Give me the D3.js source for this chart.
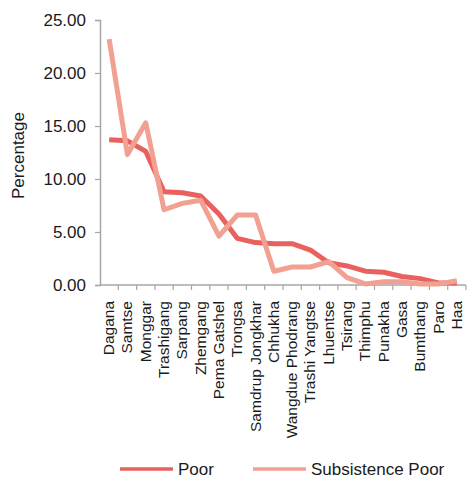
<!DOCTYPE html>
<html>
<head>
<meta charset="utf-8">
<script src="https://cdn.jsdelivr.net/npm/d3@7/dist/d3.min.js"></script>
<style>
  html, body { margin: 0; padding: 0; background: #fff; }
  svg { display: block; font-family: "Liberation Sans", Arial, sans-serif; }
</style>
</head>
<body>
<svg id="chart" width="467" height="481"></svg>
<script>
// District names along the horizontal axis
const districts = ["Dagana", "Samtse", "Monggar", "Trashigang", "Sarpang", "Zhemgang",
  "Pema Gatshel", "Trongsa", "Samdrup Jongkhar", "Chhukha", "Wangdue Phodrang",
  "Trashi Yangtse", "Lhuentse", "Tsirang", "Thimphu", "Punakha", "Gasa",
  "Bumthang", "Paro", "Haa"];

// Percentage of population below each poverty line
const poor = [13.7, 13.6, 12.6, 8.8, 8.7, 8.4, 6.7, 4.4, 4.0, 3.9, 3.9, 3.3,
  2.1, 1.8, 1.3, 1.2, 0.8, 0.6, 0.2, 0.2];
const subsistencePoor = [23.2, 12.3, 15.3, 7.1, 7.7, 8.0, 4.6, 6.6, 6.6, 1.3, 1.7, 1.7,
  2.2, 0.7, 0.1, 0.3, 0.3, 0.1, 0.1, 0.4];

const yTicks = [0, 5, 10, 15, 20, 25];

const seriesNames = ["Poor", "Subsistence Poor"];
const seriesColors = ["#e8615f", "#f1a092"];

const svg = d3.select("#chart");
const plotLeft = 100, plotRight = 466, plotTop = 20, plotBottom = 285;

const x = d3.scaleBand().domain(districts).range([plotLeft, plotRight]);
const y = d3.scaleLinear().domain([0, 25]).range([plotBottom, plotTop]);

const axisColor = "#a6a6a6";

// Vertical axis
const yAxis = svg.append("g")
  .attr("transform", `translate(${plotLeft},0)`)
  .call(d3.axisLeft(y).tickValues(yTicks).tickFormat(d3.format(".2f")).tickSize(5).tickPadding(9));
yAxis.select(".domain").attr("stroke", axisColor).attr("stroke-width", 1.5);
yAxis.selectAll(".tick line").attr("stroke", axisColor).attr("stroke-width", 1.2);
yAxis.selectAll(".tick text").attr("fill", "#1a1a1a").style("font-size", "17px")
  .style("font-family", "'Liberation Sans', Arial, sans-serif");

// Horizontal axis: ticks sit on category boundaries
const xAxis = svg.append("g")
  .attr("transform", `translate(0,${plotBottom})`);
xAxis.append("line")
  .attr("x1", plotLeft).attr("x2", plotRight)
  .attr("stroke", axisColor).attr("stroke-width", 1.5);
xAxis.selectAll("line.tick")
  .data(districts)
  .join("line")
  .attr("class", "tick")
  .attr("x1", d => x(d) + x.step())
  .attr("x2", d => x(d) + x.step())
  .attr("y1", 0).attr("y2", 5)
  .attr("stroke", axisColor).attr("stroke-width", 1.2);

// Rotated category labels
svg.append("g").selectAll("text")
  .data(districts)
  .join("text")
  .attr("transform", d => `translate(${x(d) + x.bandwidth() / 2 + 5},${plotBottom + 16}) rotate(-90)`)
  .attr("text-anchor", "end")
  .attr("fill", "#1a1a1a")
  .style("font-size", "15.5px")
  .text(d => d);

// Axis title
svg.append("text")
  .attr("transform", `translate(24,${(plotTop + plotBottom) / 2 + 3}) rotate(-90)`)
  .attr("text-anchor", "middle")
  .attr("fill", "#1a1a1a")
  .style("font-size", "17px")
  .text("Percentage");

// Series lines
const line = d3.line()
  .x((d, i) => x(districts[i]) + x.bandwidth() / 2)
  .y(d => y(d));

[poor, subsistencePoor].forEach((values, k) => {
  svg.append("path")
    .datum(values)
    .attr("fill", "none")
    .attr("stroke", seriesColors[k])
    .attr("stroke-width", 5)
    .attr("stroke-linejoin", "round")
    .attr("d", line);
});

// Legend
const legendX = [120, 253];
seriesNames.forEach((name, k) => {
  const g = svg.append("g").attr("transform", `translate(${legendX[k]},469)`);
  g.append("line")
    .attr("x1", 0).attr("x2", 53)
    .attr("stroke", seriesColors[k]).attr("stroke-width", 3.5);
  g.append("text")
    .attr("x", 58).attr("y", 6)
    .attr("fill", "#1a1a1a")
    .style("font-size", "17px")
    .text(name);
});
</script>
</body>
</html>
